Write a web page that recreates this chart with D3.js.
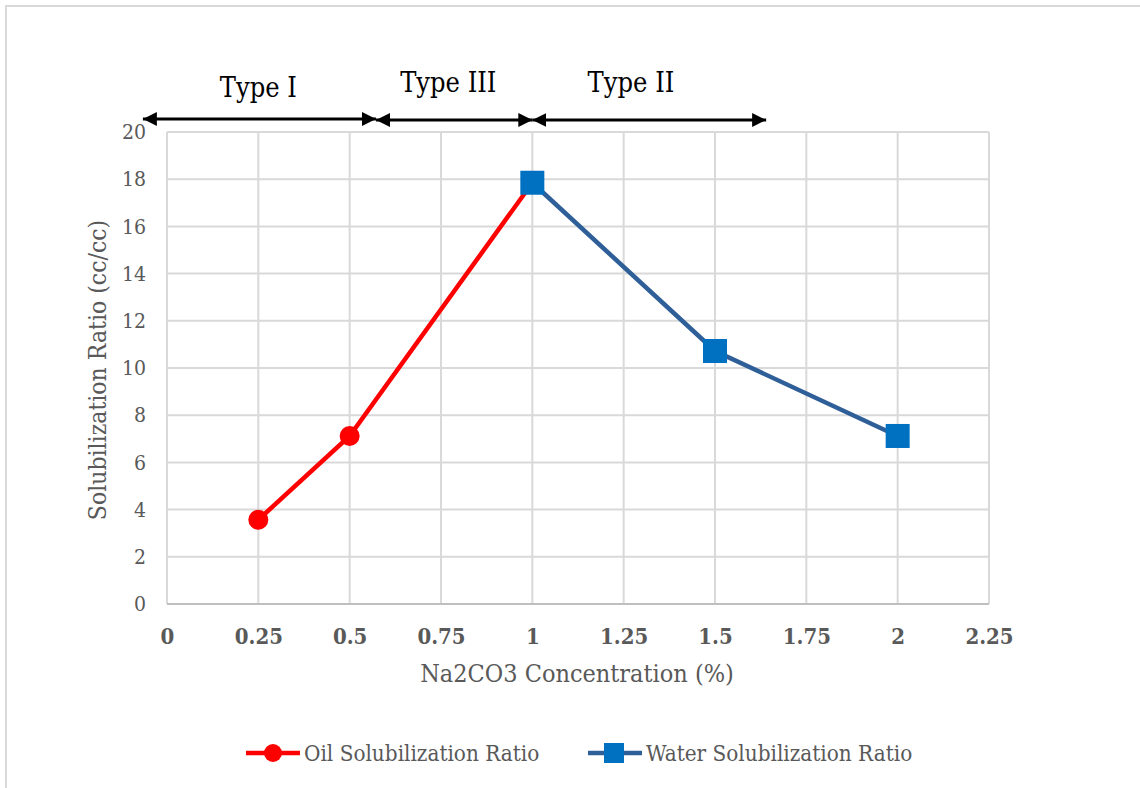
<!DOCTYPE html>
<html>
<head>
<meta charset="utf-8">
<script src="https://cdn.jsdelivr.net/npm/d3@7"></script>
<style>
  body { margin: 0; background: #fff; }
  svg { display: block; font-family: "DejaVu Serif Condensed", "DejaVu Serif", serif; }
</style>
</head>
<body>
<svg id="chart" width="1140" height="788"></svg>
<script>
// data
var xTicks = [0, 0.25, 0.5, 0.75, 1, 1.25, 1.5, 1.75, 2, 2.25];
var yTicks = [0, 2, 4, 6, 8, 10, 12, 14, 16, 18, 20];
var oilX = [0.25, 0.5, 1];
var oilY = [3.57, 7.12, 17.85];
var waterX = [1, 1.5, 2];
var waterY = [17.85, 10.72, 7.12];
// phase regions (x start, x end in data units) and labels
var phaseNames = ["Type I", "Type III", "Type II"];
var phaseFrom = [-0.066, 0.572, 1];
var phaseTo = [0.572, 1, 1.64];
var phaseLabelX = [0.25, 0.77, 1.27];

var svg = d3.select("#chart");
var textGray = "#595959";

// outer chart border
svg.append("rect")
  .attr("x", 6).attr("y", 6)
  .attr("width", 1150).attr("height", 800)
  .style("fill", "none")
  .style("stroke", "#d9d9d9")
  .style("stroke-width", 2);

var x = d3.scaleLinear().domain([0, 2.25]).range([167, 989]);
var y = d3.scaleLinear().domain([0, 20]).range([604, 132]);

// gridlines
var grid = svg.append("g");
grid.selectAll("line.v").data(xTicks).enter().append("line")
  .attr("x1", d => x(d)).attr("x2", d => x(d))
  .attr("y1", y(0)).attr("y2", y(20))
  .style("stroke", "#d9d9d9").style("stroke-width", 2);
grid.selectAll("line.h").data(yTicks).enter().append("line")
  .attr("x1", x(0)).attr("x2", x(2.25))
  .attr("y1", d => y(d)).attr("y2", d => y(d))
  .style("stroke", d => d === 0 ? "#bfbfbf" : "#d9d9d9").style("stroke-width", 2);

// axes text
var xAxis = d3.axisBottom(x).tickValues(xTicks).tickSize(0).tickPadding(24)
  .tickFormat(d => String(d));
var gx = svg.append("g").attr("transform", "translate(0," + y(0) + ")").call(xAxis);
gx.select(".domain").remove();
gx.selectAll("text")
  .style("font-family", "'DejaVu Serif Condensed', serif")
  .style("font-size", "22px").style("font-weight", "bold").style("fill", textGray);

var yAxis = d3.axisLeft(y).tickValues(yTicks).tickSize(0).tickPadding(21);
var gy = svg.append("g").attr("transform", "translate(" + x(0) + ",0)").call(yAxis);
gy.select(".domain").remove();
gy.selectAll("text")
  .style("font-family", "'DejaVu Serif Condensed', serif")
  .style("font-size", "21px").style("fill", textGray);

svg.append("text")
  .attr("x", 577).attr("y", 682)
  .attr("text-anchor", "middle")
  .style("font-size", "25px").style("fill", textGray)
  .text("Na2CO3 Concentration (%)");

svg.append("text")
  .attr("transform", "translate(106,370) rotate(-90)")
  .attr("text-anchor", "middle")
  .style("font-size", "24.5px").style("fill", textGray)
  .text("Solubilization Ratio (cc/cc)");

// series
var line = d3.line().x(d => x(d[0])).y(d => y(d[1]));
var oil = oilX.map((v, i) => [v, oilY[i]]);
var water = waterX.map((v, i) => [v, waterY[i]]);

svg.append("path").datum(oil).attr("d", line)
  .style("fill", "none").style("stroke", "#ff0000").style("stroke-width", 4.5);
svg.append("path").datum(water).attr("d", line)
  .style("fill", "none").style("stroke", "#2f5f98").style("stroke-width", 4.5);

svg.selectAll("circle.oil").data(oil).enter().append("circle")
  .attr("cx", d => x(d[0])).attr("cy", d => y(d[1])).attr("r", 10)
  .style("fill", "#ff0000");
svg.selectAll("rect.water").data(water).enter().append("rect")
  .attr("x", d => x(d[0]) - 12).attr("y", d => y(d[1]) - 12)
  .attr("width", 24).attr("height", 24)
  .style("fill", "#0070c0");

// phase arrows
var defs = svg.append("defs");
defs.append("marker").attr("id", "ah")
  .attr("viewBox", "0 0 10 10").attr("refX", 10).attr("refY", 5)
  .attr("markerWidth", 5).attr("markerHeight", 5)
  .attr("markerUnits", "strokeWidth")
  .attr("orient", "auto-start-reverse")
  .append("path").attr("d", "M0,0 L10,5 L0,10 Z").style("fill", "#000");

var arrowY = [119, 120, 120];
phaseNames.forEach(function(name, i) {
  svg.append("line")
    .attr("x1", x(phaseFrom[i])).attr("x2", x(phaseTo[i]))
    .attr("y1", arrowY[i]).attr("y2", arrowY[i])
    .style("stroke", "#000").style("stroke-width", 2.8)
    .attr("marker-start", "url(#ah)").attr("marker-end", "url(#ah)");
  svg.append("text")
    .attr("x", x(phaseLabelX[i])).attr("y", i === 0 ? 97 : 92)
    .attr("text-anchor", "middle")
    .style("font-size", "27px").style("fill", "#000")
    .text(name);
});

// legend
var leg = svg.append("g");
leg.append("line").attr("x1", 246).attr("x2", 300).attr("y1", 753).attr("y2", 753)
  .style("stroke", "#ff0000").style("stroke-width", 4.5);
leg.append("circle").attr("cx", 273).attr("cy", 753).attr("r", 9).style("fill", "#ff0000");
leg.append("text").attr("x", 304).attr("y", 761)
  .style("font-size", "22.3px").style("fill", textGray).text("Oil Solubilization Ratio");
leg.append("line").attr("x1", 588).attr("x2", 642).attr("y1", 753).attr("y2", 753)
  .style("stroke", "#2f5f98").style("stroke-width", 4.5);
leg.append("rect").attr("x", 604).attr("y", 743).attr("width", 20).attr("height", 20)
  .style("fill", "#0070c0");
leg.append("text").attr("x", 646).attr("y", 761)
  .style("font-size", "22.3px").style("fill", textGray).text("Water Solubilization Ratio");
</script>
</body>
</html>
